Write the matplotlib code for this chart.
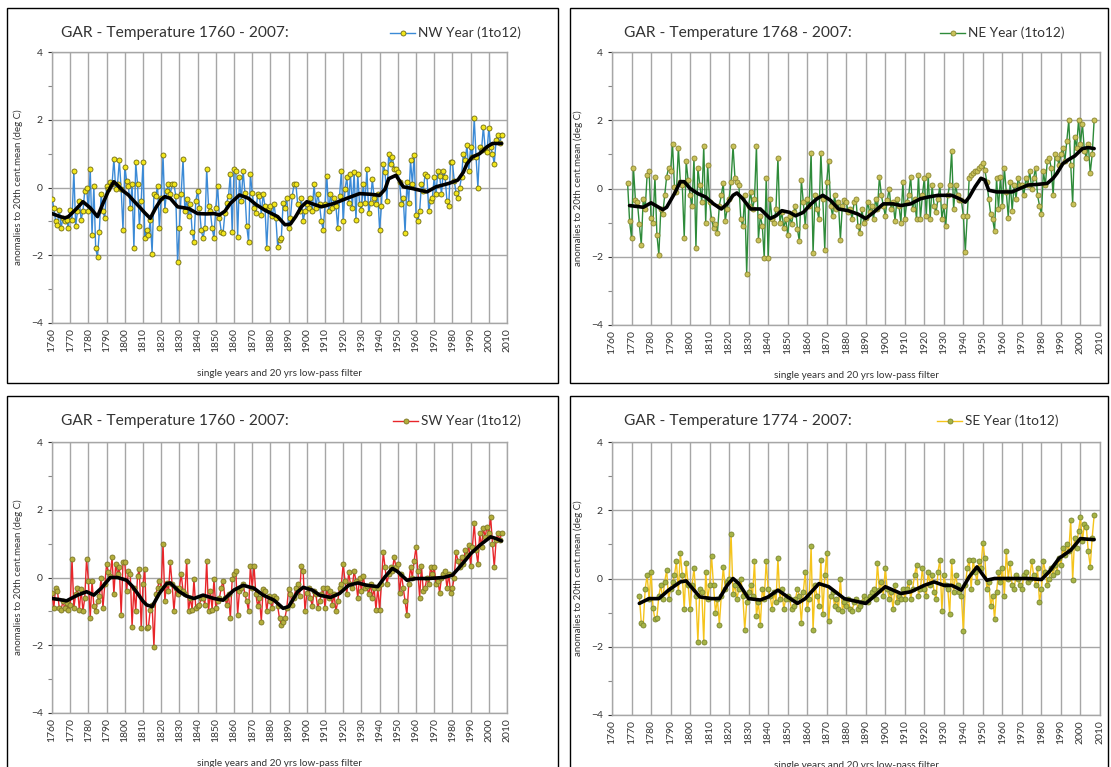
import matplotlib.pyplot as plt
import numpy as np
from matplotlib.patches import Rectangle

plt.rcParams['font.family'] = ['Lato', 'DejaVu Sans']

# ---- data: yearly anomalies (deg C) ----
nw_start = 1760
nw_vals = [
    -0.35, -0.6, -1.0, -1.1, -0.65, -1.2, -0.9, -1.0, -0.95, -1.2,
    -0.65, -0.95, 0.5, -1.15, -0.7, -0.4, -0.95, -0.7, -0.1, 0.0,
    -0.7, 0.55, -1.4, 0.05, -1.8, -2.05, -1.3, -0.2, -0.7, -0.9,
    0.05, -0.05, 0.15, 0.1, 0.85, -0.05, 0.1, 0.8, -0.05, -1.25,
    0.6, 0.2, 0.05, -0.6, 0.1, -1.8, 0.75, 0.1, -1.15, -0.4,
    0.75, -1.5, -1.25, -1.4, -0.95, -1.95, -0.2, -0.25, 0.05, -1.2,
    -0.3, 0.95, -0.65, -0.1, 0.1, -0.2, 0.1, 0.1, -0.25, -2.2,
    -1.2, -0.2, 0.85, -0.7, -0.35, -0.85, -0.5, -1.3, -1.6, -0.4,
    -0.1, -0.6, -1.25, -1.5, -1.2, 0.55, -0.55, -0.7, -1.2, -1.5,
    -0.6, 0.05, -0.9, -1.3, -1.35, -0.75, -0.45, -0.25, 0.4, -1.3,
    0.55, 0.5, -1.45, 0.3, -0.4, 0.5, -0.15, -1.15, -1.6, 0.4,
    -0.15, -0.6, -0.75, -0.2, -0.25, -0.8, -0.2, -0.55, -1.8, -0.6,
    -0.55, -0.85, -0.5, -0.9, -1.75, -1.55, -1.5, -0.45, -0.6, -0.3,
    -1.2, -0.9, -0.25, 0.1, 0.1, -0.5, -0.7, -0.3, -1.0, -0.7,
    -0.5, -0.6, -0.3, -0.7, 0.1, -0.6, -0.2, -0.5, -1.0, -1.25,
    -0.5, 0.35, -0.7, -0.2, -0.6, -0.3, -0.55, -1.2, -0.25, 0.5,
    -1.0, -0.05, 0.3, -0.45, 0.4, -0.6, 0.45, -0.95, 0.4, -0.5,
    -0.65, 0.1, -0.45, 0.55, -0.75, -0.45, 0.25, -0.3, -0.5, -0.2,
    -1.25, -0.55, 0.7, 0.45, -0.4, 1.0, 0.7, 0.9, 0.55, 0.55,
    0.45, 0.15, -0.5, -0.3, -1.35, 0.15, -0.45, 0.8, 0.1, 0.95,
    -0.8, -1.0, -0.7, 0.1, -0.1, 0.4, 0.35, -0.7, -0.4, -0.3,
    0.3, -0.2, 0.5, 0.35, -0.2, 0.5, 0.3, -0.4, -0.55, 0.75,
    0.75, 0.2, -0.15, -0.3, 0.0, 0.3, 1.0, 0.8, 1.25, 0.5,
    1.2, 0.9, 2.05, 0.9, 0.0, 1.2, 1.1, 1.8, 1.15, 1.05,
    1.75, 1.2, 1.0, 0.7, 1.4, 1.55, 1.3, 1.55,
]
nw_smooth_years = [1760, 1764, 1767, 1769, 1773, 1777, 1781, 1785, 1788, 1791,
                   1794, 1796, 1799, 1802, 1805, 1808, 1811, 1814, 1817, 1820,
                   1822, 1825, 1829, 1835, 1840, 1845, 1849, 1852, 1855, 1858,
                   1863, 1868, 1872, 1877, 1881, 1884, 1888, 1891, 1894, 1897,
                   1900, 1904, 1908, 1915, 1922, 1929, 1935, 1940, 1943, 1945,
                   1949, 1953, 1958, 1962, 1966, 1971, 1978, 1983, 1986, 1988,
                   1991, 1995, 1999, 2002, 2007]
nw_smooth = [-0.77, -0.85, -0.9, -0.86, -0.65, -0.42, -0.6, -0.86, -0.47, -0.1,
             0.17, 0.07, -0.1, -0.22, -0.4, -0.57, -0.75, -0.91, -0.6, -0.35,
             -0.27, -0.32, -0.57, -0.62, -0.77, -0.78, -0.77, -0.81, -0.7, -0.47,
             -0.22, -0.32, -0.5, -0.67, -0.78, -0.86, -1.1, -1.08, -0.85, -0.57,
             -0.42, -0.5, -0.57, -0.47, -0.32, -0.18, -0.2, -0.23, -0.05, 0.26,
             0.36, 0.02, -0.03, -0.08, -0.13, 0.02, 0.12, 0.22, 0.45, 0.7,
             0.9, 1.0, 1.2, 1.3, 1.3]

ne_start = 1768
ne_vals = [
    0.15, -0.95,
    -1.45, 0.6, -0.35, -0.4, -1.05, -1.65, -0.3, -0.6, 0.4, 0.5,
    -0.85, -1.0, 0.35, -1.35, -1.95, -0.6, -0.75, -0.2, 0.35, 0.6,
    0.5, 1.3, 0.05, -0.1, 1.2, 0.2, 0.1, -1.45, 0.8, 0.25,
    -0.2, -0.5, 0.9, -1.75, 0.6, 0.1, -0.4, 1.25, -1.0, 0.7,
    -0.4, -0.9, -1.15, -1.05, -1.3, -0.5, -0.2, 0.15, -0.95, -0.6,
    -0.3, 0.2, 1.25, 0.3, 0.2, 0.1, -0.9, -1.1, -0.2, -2.5,
    -0.5, -0.1, -0.6, -0.3, 1.25, -1.5, -0.8, -1.1, -2.05, 0.3,
    -2.05, -0.3, -0.9, -1.0, -0.6, 0.9, -1.0, -0.7, -1.15, -0.9,
    -1.35, -0.8, -1.05, -0.7, -0.5, -1.2, -1.55, 0.25, -0.4, -1.1,
    -0.3, -0.5, 1.05, -1.9, -0.2, -0.6, -0.9, 1.05, -0.3, -1.8,
    0.2, 0.8, -0.5, -0.8, -0.2, -0.6, -0.4, -1.5, -0.5, -0.35,
    -0.4, -0.7, -0.6, -0.9, -0.4, -0.3, -1.1, -1.3, -0.6, -1.0,
    -0.85, -0.4, -0.7, -0.5, -0.9, -0.3, -0.6, 0.35, -0.2, -0.5,
    -0.8, -0.35, 0.0, -0.6, -0.4, -0.95, -0.3, -0.5, -1.0, 0.2,
    -0.9, -0.4, -0.2, 0.35, -0.6, -0.3, -0.9, 0.4, -0.9, -0.2,
    0.3, -0.8, 0.4, -0.9, 0.1, -0.5, -0.7, -0.3, 0.1, -0.9,
    -0.5, -1.1, -0.2, 0.1, 1.1, -0.6, 0.1, -0.2, -0.35, -0.35,
    -0.8, -1.85, -0.8, 0.3, 0.4, 0.45, 0.5, 0.5, 0.6, 0.65,
    0.75, 0.55, 0.2, -0.3, -0.75, -0.9, -1.25, 0.3, -0.6, 0.35,
    -0.5, 0.6, -0.1, -0.85, 0.2, -0.65, 0.1, -0.3, 0.3, 0.1,
    0.1, -0.2, 0.3, 0.1, 0.5, 0.0, 0.3, 0.6, -0.2, -0.5,
    -0.75, 0.5, 0.1, 0.8, 0.9, 0.6, -0.2, 1.0, 0.9, 0.7,
    1.0, 1.2, 0.8, 1.4, 2.0, 0.7, -0.45, 1.5, 1.2, 2.0,
    1.3, 1.9, 1.1, 0.9, 1.3, 0.45, 1.0, 2.0,
]
ne_smooth_years = [1769, 1776, 1780, 1786, 1788, 1792, 1795, 1797, 1800, 1804,
                   1808, 1812, 1816, 1819, 1822, 1824, 1827, 1831, 1836, 1841,
                   1844, 1847, 1851, 1854, 1858, 1862, 1865, 1868, 1872, 1876,
                   1881, 1886, 1890, 1894, 1899, 1904, 1908, 1913, 1918, 1922,
                   1927, 1934, 1938, 1941, 1943, 1946, 1949, 1951, 1953, 1957,
                   1961, 1965, 1969, 1973, 1978, 1983, 1986, 1988, 1991, 1994,
                   1997, 2001, 2004, 2007]
ne_smooth = [-0.5, -0.55, -0.42, -0.62, -0.55, -0.15, 0.2, 0.2, 0.0, -0.15,
             -0.25, -0.45, -0.6, -0.45, -0.2, -0.13, -0.3, -0.6, -0.6, -0.88,
             -0.8, -0.65, -0.7, -0.8, -0.7, -0.45, -0.3, -0.2, -0.35, -0.6,
             -0.65, -0.75, -0.88, -0.7, -0.45, -0.45, -0.5, -0.45, -0.3, -0.25,
             -0.2, -0.2, -0.3, -0.4, -0.25, 0.05, 0.3, 0.25, -0.05, -0.1,
             -0.1, -0.1, 0.0, 0.1, 0.12, 0.15, 0.3, 0.45, 0.73, 0.85,
             0.95, 1.17, 1.2, 1.17]

sw_start = 1760
sw_vals = [
    -0.45, -0.9, -0.3, -0.4, -0.9, -0.95, -0.7, -0.9, -0.75, -0.95,
    -0.8, 0.55, -0.9, -0.5, -0.3, -0.95, -0.35, -1.0, -0.6, 0.55,
    -0.1, -1.2, -0.1, -0.85, -1.0, -0.7, -0.55, 0.0, -0.9, -0.2,
    0.4, 0.15, 0.05, 0.6, -0.5, 0.4, 0.1, 0.3, -1.1, 0.45,
    0.45, -0.4, 0.2, 0.1, -1.45, -0.3, -1.0, 0.05, 0.25, -1.5,
    -0.2, 0.25, -1.5, -1.45, -0.95, -0.8, -2.05, -0.5, -0.3, -0.1,
    -0.3, 1.0, -0.7, -0.15, -0.4, 0.45, -0.2, -1.0, -0.3, -0.5,
    -0.3, 0.1, -0.4, -0.5, 0.5, -1.0, -0.6, -0.95, -0.05, -0.9,
    -0.85, -0.8, -0.6, -0.6, -0.8, 0.5, -1.0, -0.4, -0.95, -0.05,
    -0.9, -0.7, -0.6, -0.3, -0.1, -0.6, -0.8, -0.5, -1.2, -0.05,
    0.1, 0.2, -1.1, -0.4, -0.3, -0.2, -0.5, -0.7, -1.0, 0.35,
    -0.3, 0.35, -0.5, -0.85, -0.6, -1.3, -0.35, -0.4, -1.0, -0.55,
    -0.7, -0.9, -0.55, -0.6, -0.85, -1.2, -1.4, -1.3, -1.2, -0.9,
    -0.35, -0.5, -0.8, -0.6, -0.3, -0.2, -0.55, 0.35, 0.2, -1.0,
    -0.45, -0.3, -0.6, -0.85, -0.4, -0.5, -0.9, -0.7, -0.5, -0.3,
    -0.9, -0.3, -0.6, -0.4, -0.8, -0.5, -1.0, -0.7, -0.3, -0.2,
    0.4, -0.1, -0.5, 0.15, -0.2, -0.3, 0.2, -0.1, -0.6, 0.0,
    -0.4, 0.05, -0.3, -0.25, -0.5, -0.2, -0.6, -0.3, -0.95, -0.3,
    -0.95, -0.2, 0.75, 0.3, -0.2, 0.1, 0.3, 0.2, 0.6, 0.3,
    0.4, -0.45, 0.1, -0.3, -0.7, -1.1, -0.2, 0.3, 0.0, 0.5,
    0.9, 0.2, -0.6, 0.35, -0.4, -0.3, 0.0, -0.2, 0.3, 0.1,
    0.3, -0.2, -0.1, -0.45, 0.0, 0.1, 0.2, -0.3, 0.1, -0.45,
    -0.3, 0.0, 0.75, 0.5, 0.3, 0.6, 0.4, 0.8, 0.65, 0.95,
    0.35, 0.9, 1.6, 0.8, 0.4, 1.3, 0.9, 1.45, 1.2, 1.5,
    1.3, 1.8, 1.0, 0.3, 1.1, 1.3, 1.1, 1.3,
]
sw_smooth_years = [1760, 1764, 1768, 1774, 1779, 1783, 1787, 1792, 1796, 1801,
                   1804, 1807, 1810, 1812, 1815, 1819, 1823, 1825, 1830, 1834,
                   1838, 1843, 1849, 1854, 1860, 1865, 1871, 1876, 1882, 1887,
                   1890, 1895, 1898, 1903, 1907, 1913, 1918, 1923, 1928, 1933,
                   1939, 1943, 1947, 1950, 1955, 1960, 1967, 1975, 1980, 1984,
                   1987, 1990, 1995, 2001, 2004, 2007]
sw_smooth = [-0.62, -0.65, -0.69, -0.52, -0.42, -0.52, -0.32, 0.0, 0.0, -0.08,
             -0.25, -0.47, -0.7, -0.81, -0.86, -0.47, -0.18, -0.16, -0.42, -0.55,
             -0.62, -0.52, -0.62, -0.67, -0.37, -0.23, -0.32, -0.52, -0.67, -0.91,
             -0.86, -0.42, -0.29, -0.37, -0.52, -0.59, -0.47, -0.23, -0.16, -0.23,
             -0.27, 0.02, 0.27, 0.17, -0.08, -0.03, -0.03, 0.0, 0.07, 0.31,
             0.5, 0.7, 0.95, 1.2, 1.15, 1.08]

se_start = 1774
se_vals = [
    -0.5, -1.3, -1.35, -0.3, 0.1, -0.6,
    0.2, -0.85, -1.2, -1.15, -0.5, -0.2, -0.6, -0.1, 0.25, -0.6,
    -0.3, -0.1, 0.1, 0.5, -0.4, 0.75, 0.1, -0.9, 0.45, -0.2,
    -0.9, -0.2, 0.3, -0.5, -1.85, -0.3, -0.4, -1.85, 0.2, -0.6,
    -0.2, 0.65, -0.2, -1.0, -0.6, -1.35, -0.5, 0.35, -0.3, -0.1,
    0.0, 1.3, -0.45, -0.2, -0.6, -0.3, 0.0, -0.5, -1.5, -0.7,
    -0.4, -0.2, -0.5, 0.5, -1.1, -0.7, -1.35, -0.3, -0.6, 0.5,
    -0.3, -0.5, -0.9, -0.4, -0.7, 0.6, -0.6, -0.3, -0.9, -0.6,
    -0.5, -0.6, -0.9, -0.8, -0.6, -0.3, -0.5, -1.3, -0.4, 0.2,
    -0.9, -0.6, 0.95, -1.5, -0.2, -0.5, -0.8, 0.55, -1.05, 0.1,
    0.75, -1.25, -0.5, -0.4, -0.8, -0.6, -0.9, 0.0, -0.95, -0.7,
    -0.8, -0.6, -0.9, -0.95, -0.7, -0.6, -0.9, -0.8, -0.7, -0.5,
    -0.6, -0.7, -0.5, -0.4, -0.3, -0.6, 0.45, -0.35, -0.1, -0.5,
    0.3, -0.3, -0.6, -0.4, -0.9, -0.2, -0.7, -0.5, -0.6, -0.3,
    -0.6, -0.3, -0.1, -0.6, -0.3, 0.1, 0.4, -0.5, -0.3, 0.3,
    -0.3, -0.5, 0.2, -0.2, 0.1, -0.4, -0.6, 0.2, 0.55, -0.95,
    0.1, -0.2, -0.3, -1.05, 0.5, -0.4, 0.1, -0.2, -0.4, -0.5,
    -1.55, -0.2, 0.3, 0.55, -0.3, 0.55, 0.2, -0.1, 0.5, 0.3,
    1.05, 0.6, -0.3, -0.1, -0.8, -0.5, -1.2, -0.4, 0.2, -0.1,
    0.3, -0.5, 0.8, 0.0, 0.45, -0.2, -0.3, 0.1, 0.0, -0.2,
    -0.3, 0.1, 0.2, -0.1, 0.0, 0.5, 0.1, -0.2, 0.3, -0.7,
    -0.3, 0.5, 0.2, -0.2, 0.0, 0.3, 0.1, 0.4, 0.2, 0.6,
    0.4, 0.9, 0.7, 1.0, 0.8, 1.7, -0.05, 1.2, 0.9, 1.4,
    1.8, 1.1, 1.6, 1.5, 0.8, 0.35, 1.2, 1.85,
]
se_smooth_years = [1774, 1779, 1784, 1789, 1795, 1798, 1802, 1805, 1811, 1815,
                   1819, 1822, 1825, 1830, 1836, 1840, 1845, 1850, 1855, 1859,
                   1866, 1871, 1879, 1886, 1890, 1895, 1900, 1904, 1908, 1913,
                   1920, 1925, 1930, 1934, 1939, 1943, 1947, 1952, 1956, 1965,
                   1973, 1980, 1984, 1989, 1995, 2000, 2004, 2007]
se_smooth = [-0.73, -0.59, -0.59, -0.34, -0.1, -0.07, -0.34, -0.54, -0.59, -0.59,
             -0.2, 0.0, -0.15, -0.59, -0.63, -0.54, -0.34, -0.54, -0.73, -0.59,
             -0.15, -0.24, -0.59, -0.68, -0.73, -0.49, -0.24, -0.34, -0.44, -0.39,
             -0.2, -0.1, -0.2, -0.2, -0.34, 0.05, 0.34, -0.05, 0.0, 0.0,
             0.0, -0.03, 0.2, 0.59, 0.83, 1.17, 1.15, 1.14]

titles = ['GAR - Temperature 1760 - 2007:', 'GAR - Temperature 1768 - 2007:',
          'GAR - Temperature 1760 - 2007:', 'GAR - Temperature 1774 - 2007:']
labels = ['NW Year (1to12)', 'NE Year (1to12)', 'SW Year (1to12)', 'SE Year (1to12)']
decades = list(range(1760, 2011, 10))

W, H = 1111, 767
fig = plt.figure(figsize=(W / 100, H / 100), dpi=100)
fig.patch.set_facecolor('white')


def fx(px):
    return px / W


def fy(py):
    return 1 - py / H


def panel(box, plot, title, label, start, vals, s_years, s_vals, lc, mfc, mec, leg_x):
    bl, bt, br, bb = box
    fig.patches.append(Rectangle((fx(bl), fy(bb)), fx(br - bl), (bb - bt) / H,
                                 transform=fig.transFigure, fill=False,
                                 edgecolor='black', lw=1.0, zorder=0))
    l, t, r, b = plot
    ax = fig.add_axes([fx(l), fy(b), fx(r - l), (b - t) / H])
    years = np.arange(start, start + len(vals))
    line, = ax.plot(years, vals, color=lc, lw=1.0, marker='o', ms=3.6,
                    mfc=mfc, mec=mec, mew=0.6, zorder=3)
    ax.plot(s_years, s_vals, color='black', lw=2.6, solid_joinstyle='round',
            solid_capstyle='round', zorder=4)
    ax.set_xlim(1760, 2010)
    ax.set_ylim(-4, 4)
    ax.set_xticks(decades)
    ax.set_xticklabels([str(d) for d in decades], rotation=90, fontsize=7.5,
                       color='#333333')
    ax.set_yticks([-4, -2, 0, 2, 4])
    ax.set_yticks([-3, -1, 1, 3], minor=True)
    ax.tick_params(axis='y', labelsize=7.5, colors='#333333', length=3,
                   width=0.8, direction='out')
    ax.tick_params(axis='y', which='minor', length=3, width=0.8, color='#888888')
    ax.tick_params(axis='x', length=0, pad=4)
    ax.grid(True, color='#a6a6a6', lw=1.0)
    ax.set_axisbelow(True)
    for s in ax.spines.values():
        s.set_color('#a6a6a6')
        s.set_linewidth(1.0)
    ax.set_ylabel('anomalies to 20th cent.mean (deg C)', fontsize=7,
                  color='#333333', labelpad=6)
    ax.set_xlabel('single years and 20 yrs low-pass filter', fontsize=7.2,
                  color='#333333', labelpad=12)
    fig.text(fx(bl + 54), fy(bt + 25), title, fontsize=11.2, color='#333333',
             va='center', ha='left')
    ax.legend([line], [label], loc='center left', frameon=False,
              bbox_to_anchor=(fx(leg_x), fy(bt + 25)),
              bbox_transform=fig.transFigure, fontsize=9.8, handlelength=1.85,
              handletextpad=0.2, borderpad=0, borderaxespad=0,
              labelcolor='#333333')
    return ax


panel((7, 8, 558, 383), (52, 52, 507, 323), titles[0], labels[0], nw_start,
      nw_vals, nw_smooth_years, nw_smooth, '#3b8ad6', '#f2e61c', '#6f6a10', 390)
panel((570, 8, 1108, 383), (612, 52, 1100, 325), titles[1], labels[1], ne_start,
      ne_vals, ne_smooth_years, ne_smooth, '#2e8b3a', '#c9c25a', '#8a8530', 940)
panel((7, 396, 558, 780), (52, 442, 507, 713), titles[2], labels[2], sw_start,
      sw_vals, sw_smooth_years, sw_smooth, '#e8262a', '#b4ae3c', '#7a7525', 393)
panel((570, 396, 1108, 780), (612, 442, 1100, 715), titles[3], labels[3], se_start,
      se_vals, se_smooth_years, se_smooth, '#f5c41b', '#a6b446', '#7a8530', 937)

fig.savefig('out.png', dpi=100)
